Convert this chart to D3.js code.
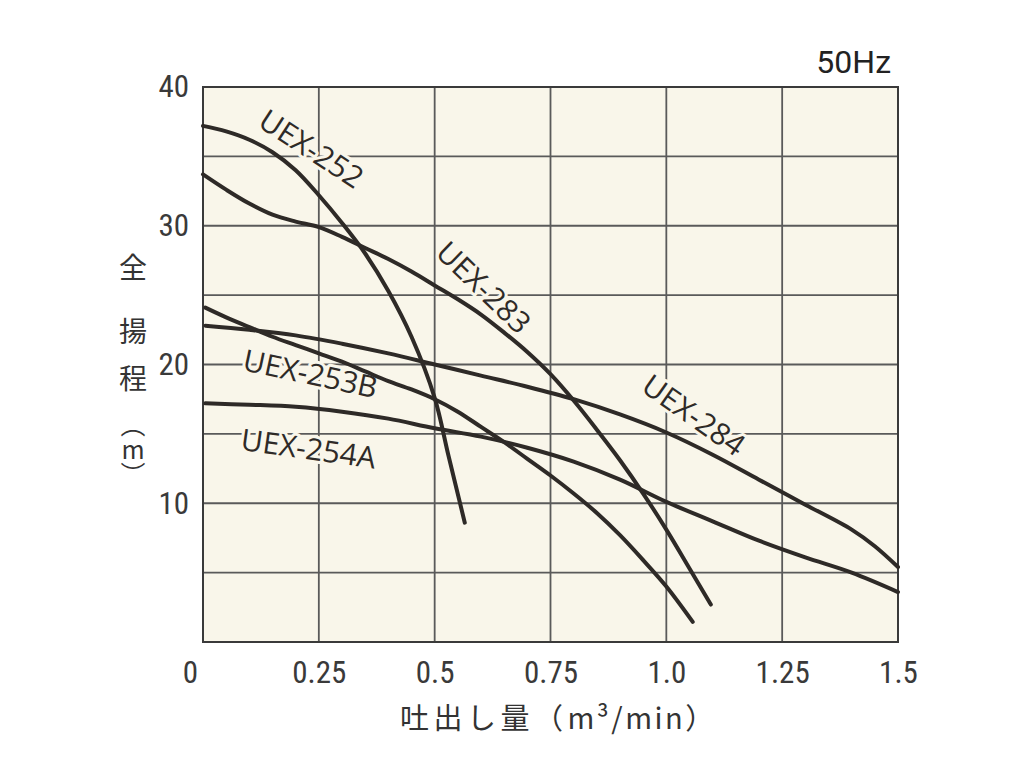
<!DOCTYPE html>
<html><head><meta charset="utf-8">
<script src="https://cdn.jsdelivr.net/npm/d3@7"></script>
<style>
html,body{margin:0;padding:0;background:#fff;}
svg{display:block;}
</style></head>
<body>
<svg id="chart" width="1024" height="776"></svg>
<script>
// ---- data ----
const xTicks = [0, 0.25, 0.5, 0.75, 1.0, 1.25, 1.5];
const xTickLabels = ["0", "0.25", "0.5", "0.75", "1.0", "1.25", "1.5"];
const yTicks = [10, 20, 30, 40];
const yGrid = [0, 5, 10, 15, 20, 25, 30, 35, 40];
const seriesNames = ["UEX-252", "UEX-283", "UEX-284", "UEX-253B", "UEX-254A"];

const uex252Q = [0, 0.05, 0.1, 0.15, 0.2, 0.25, 0.3, 0.35, 0.4, 0.45, 0.5, 0.53, 0.565];
const uex252H = [37.2, 36.8, 36.2, 35.3, 34.0, 32.2, 30.2, 28.0, 25.3, 22.0, 17.6, 13.4, 8.6];

const uex283Q = [0, 0.05, 0.1, 0.15, 0.2, 0.25, 0.3, 0.35, 0.4, 0.45, 0.5, 0.55, 0.6, 0.65, 0.7, 0.75, 0.8, 0.85, 0.9, 0.95, 1.0, 1.05, 1.096];
const uex283H = [33.7, 32.6, 31.6, 30.8, 30.3, 29.9, 29.2, 28.4, 27.6, 26.7, 25.7, 24.7, 23.6, 22.3, 20.9, 19.3, 17.4, 15.3, 13.1, 10.7, 8.1, 5.3, 2.7];

const uex284Q = [0.005, 0.1, 0.2, 0.3, 0.4, 0.5, 0.6, 0.7, 0.8, 0.9, 1.0, 1.1, 1.2, 1.3, 1.4, 1.45, 1.5];
const uex284H = [22.8, 22.5, 22.1, 21.5, 20.8, 20.0, 19.2, 18.4, 17.5, 16.4, 15.1, 13.5, 11.7, 9.9, 8.1, 6.9, 5.4];

const uex253BQ = [0.005, 0.05, 0.1, 0.15, 0.2, 0.25, 0.3, 0.35, 0.4, 0.45, 0.5, 0.55, 0.6, 0.65, 0.7, 0.75, 0.8, 0.85, 0.9, 0.95, 1.0, 1.057];
const uex253BH = [24.1, 23.4, 22.7, 22.0, 21.4, 20.8, 20.2, 19.5, 18.8, 18.2, 17.5, 16.6, 15.5, 14.4, 13.2, 12.0, 10.7, 9.3, 7.7, 5.9, 4.0, 1.45];

const uex254AQ = [0.005, 0.1, 0.2, 0.3, 0.4, 0.5, 0.6, 0.7, 0.8, 0.9, 1.0, 1.1, 1.2, 1.3, 1.4, 1.5];
const uex254AH = [17.2, 17.1, 16.95, 16.6, 16.1, 15.4, 14.8, 14.0, 13.0, 11.7, 10.1, 8.7, 7.3, 6.1, 5.0, 3.6];

// label anchors (data coords) and rotation
const labelQ = [0.235, 0.607, 1.06, 0.232, 0.228];
const labelH = [35.6, 25.6, 16.4, 19.4, 14.0];
const labelAngle = [33, 44, 35, 12, 8];

// ---- layout ----
const svg = d3.select("#chart");
const L = 203, R = 898, T = 87, B = 642;
const x = d3.scaleLinear().domain([0, 1.5]).range([L, R]);
const y = d3.scaleLinear().domain([0, 40]).range([B, T]);

const bg = "#f9f6ea", ink = "#2e2a27", grid = "#5a5a5a";
const tickFont = "'Liberation Sans Narrow', 'Roboto Condensed', Roboto, sans-serif";

svg.append("rect").attr("x", L).attr("y", T).attr("width", R - L).attr("height", B - T).attr("fill", bg);

const g = svg.append("g");
g.selectAll("line.v").data(xTicks).join("line")
  .attr("x1", d => x(d)).attr("x2", d => x(d)).attr("y1", T).attr("y2", B)
  .attr("stroke", grid).attr("stroke-width", 1.8);
g.selectAll("line.h").data(yGrid).join("line")
  .attr("x1", L).attr("x2", R).attr("y1", d => y(d)).attr("y2", d => y(d))
  .attr("stroke", grid).attr("stroke-width", 1.8);

const xAxis = svg.append("g").attr("transform", `translate(0,${B})`)
  .call(d3.axisBottom(x).tickValues(xTicks).tickFormat((d, i) => xTickLabels[i]).tickSize(0).tickPadding(19));
xAxis.select(".domain").remove();
xAxis.selectAll("text").attr("font-family", tickFont).attr("font-size", 31).attr("fill", "#3a3a3a")
  .attr("dx", d => d === 0 ? -13 : 0);

const yAxis = svg.append("g").attr("transform", `translate(${L},0)`)
  .call(d3.axisLeft(y).tickValues(yTicks).tickSize(0).tickPadding(14));
yAxis.select(".domain").remove();
yAxis.selectAll("text").attr("font-family", tickFont).attr("font-size", 31).attr("fill", "#3a3a3a");

svg.append("rect").attr("x", L).attr("y", T).attr("width", R - L).attr("height", B - T)
  .attr("fill", "none").attr("stroke", "#3a3a3a").attr("stroke-width", 2);

const series = [
  [uex252Q, uex252H], [uex283Q, uex283H], [uex284Q, uex284H], [uex253BQ, uex253BH], [uex254AQ, uex254AH]
];
const line = d3.line().x(d => x(d[0])).y(d => y(d[1])).curve(d3.curveCatmullRom.alpha(0.5));

const labels = svg.append("g");
seriesNames.forEach((name, i) => {
  labels.append("text")
    .attr("transform", `translate(${x(labelQ[i])},${y(labelH[i])}) rotate(${labelAngle[i]})`)
    .attr("text-anchor", "middle").attr("dominant-baseline", "central")
    .attr("font-family", "'Open Sans', 'Noto Sans', sans-serif").attr("font-size", 30)
    .attr("fill", ink).attr("stroke", bg).attr("stroke-width", 6).attr("paint-order", "stroke")
    .attr("stroke-linejoin", "round")
    .text(name);
});

const curves = svg.append("g");
series.forEach(([qs, hs]) => {
  curves.append("path").datum(qs.map((q, j) => [q, hs[j]]))
    .attr("d", line).attr("fill", "none").attr("stroke", ink).attr("stroke-width", 4)
    .attr("stroke-linecap", "round");
});

svg.append("text").attr("x", 891).attr("y", 73).attr("text-anchor", "end")
  .attr("font-family", "Roboto, 'Liberation Sans', sans-serif").attr("font-size", 32).attr("fill", "#222").text("50Hz");

// y title, stacked vertically
const yTitle = ["全", "揚", "程"];
const yTitlePos = [266, 330, 377];
yTitle.forEach((c, i) => {
  svg.append("text").attr("x", 133).attr("y", yTitlePos[i]).attr("text-anchor", "middle")
    .attr("dominant-baseline", "central")
    .attr("font-family", "'Noto Sans CJK JP', sans-serif")
    .attr("font-size", 28).attr("fill", "#333").text(c);
});
svg.append("text").attr("x", 133).attr("y", 412)
  .style("writing-mode", "vertical-rl").style("text-orientation", "upright")
  .attr("font-family", "'Noto Sans CJK JP', sans-serif")
  .attr("font-size", 25).attr("fill", "#333").text("（m）");

// x title
const xt = svg.append("text").attr("x", 400).attr("y", 729).attr("text-anchor", "start")
  .attr("font-family", "'Noto Sans CJK JP', sans-serif").attr("font-size", 29).attr("fill", "#333");
xt.append("tspan").attr("letter-spacing", 4.5).text("吐出し量（");
xt.append("tspan").attr("letter-spacing", 2.5).text("m³/min");
xt.append("tspan").text("）");
</script>
</body></html>
